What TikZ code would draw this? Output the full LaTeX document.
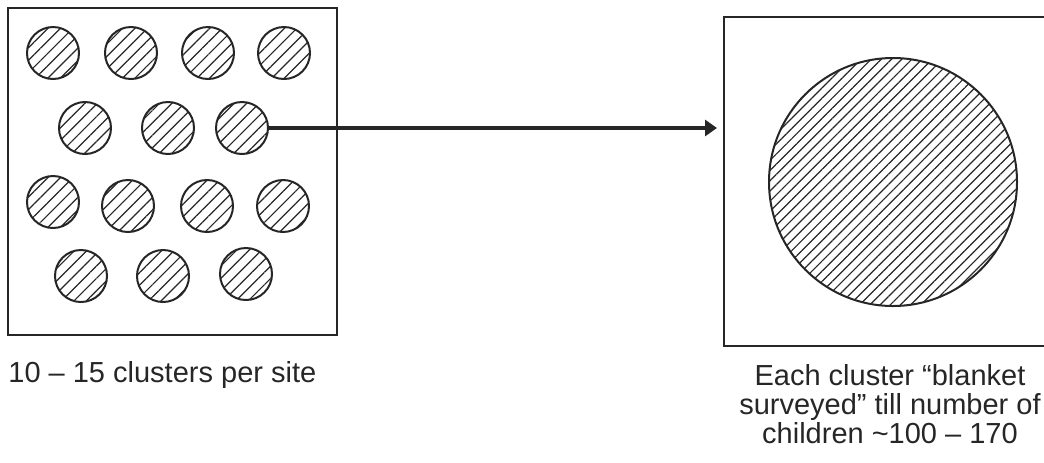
\documentclass[tikz,border=0pt]{standalone}
\usepackage{fontspec}
\setmainfont{Liberation Sans}
\usetikzlibrary{patterns.meta,arrows.meta}

\tikzset{
  cluster/.style={circle,draw=black!85,line width=1pt,minimum size=26pt,inner sep=0pt,
    pattern={Lines[angle=45,distance=4.4pt,line width=0.6pt]},pattern color=black!85},
  bigcluster/.style={cluster,minimum size=124pt,pattern={Lines[angle=45,distance=3.6pt,line width=0.6pt]}},
  areabox/.style={rectangle,draw=black!85,line width=1pt,inner sep=0pt},
  caption/.style={text=black!85,inner sep=0pt,font=\fontsize{14.5}{14.5}\selectfont},
  flow/.style={draw=black!85,line width=1.6pt,-{Triangle[length=6pt,width=8pt]}}
}

\begin{document}
\begin{tikzpicture}[x=0.5pt,y=-0.5pt]
\clip (0,0) rectangle (1044,462);

% site with its clusters
\node [areabox,minimum width=164.5pt,minimum height=163.5pt] (site) at (172.5,171.5) {};

\node [cluster] (c11) at (53,53) {};
\node [cluster] (c12) at (131,53) {};
\node [cluster] (c13) at (208,53) {};
\node [cluster] (c14) at (284,53) {};

\node [cluster] (c21) at (85,128) {};
\node [cluster] (c22) at (168,128) {};
\node [cluster] (c23) at (242,128) {};

\node [cluster] (c31) at (53,202) {};
\node [cluster] (c32) at (128,206) {};
\node [cluster] (c33) at (207,206) {};
\node [cluster] (c34) at (283,206) {};

\node [cluster] (c41) at (81,276) {};
\node [cluster] (c42) at (163,276) {};
\node [cluster] (c43) at (246,274) {};

% one cluster, enlarged
\node [areabox,minimum width=169pt,minimum height=164.5pt] (zoombox) at (893,181.5) {};
\node [bigcluster] (blanket) at (893,182) {};

\draw[flow,shorten >=3pt] (c23.east) -- (c23.east -| zoombox.west);

\node [caption,anchor=base west] (sitetext) at (8,382) {10 -- 15 clusters per site};
% base anchor sits on the last line
\node [caption,anchor=base,align=center] (blankettext) at (890,443)
  {Each cluster “blanket\\ surveyed” till number of\\ children \textasciitilde100 -- 170};

\end{tikzpicture}
\end{document}
